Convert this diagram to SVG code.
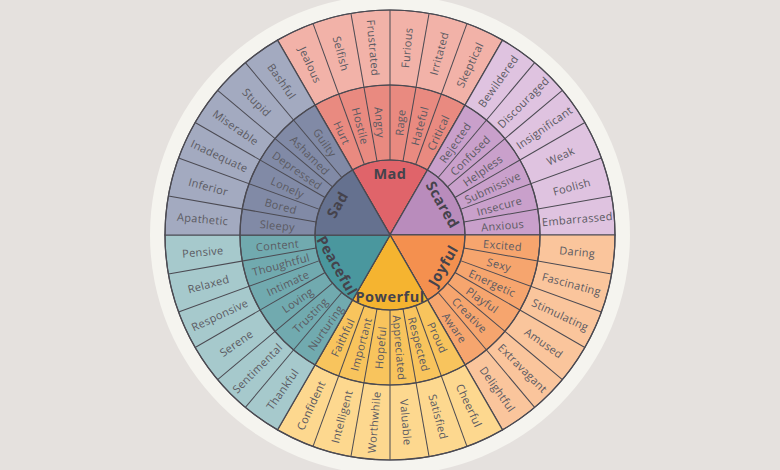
<svg xmlns="http://www.w3.org/2000/svg" width="780" height="470" viewBox="0 0 780 470">
<style>
.t{font-family:"Open Sans","Liberation Sans",sans-serif;font-size:11px;fill:#5b5a62;text-anchor:middle;dominant-baseline:central;letter-spacing:0.3px}
.c{font-family:"Open Sans","Liberation Sans",sans-serif;font-size:14.5px;font-weight:700;fill:#45434c;text-anchor:middle;dominant-baseline:central;letter-spacing:0.5px}
.sec{stroke:#4b4a52;stroke-width:1.2}
.div{stroke:#4b4a52;stroke-width:1}
</style>
<rect width="780" height="470" fill="#e5e1de"/>
<circle cx="390" cy="235" r="240" fill="#f5f4ef"/>

<g id="mad">
<path class="sec" d="M390 235 L277.5 40.14 A225 225 0 0 1 502.5 40.14 Z" fill="#f2b2a8"/>
<path class="sec" d="M390 235 L315 105.1 A150 150 0 0 1 465 105.1 Z" fill="#e98a80"/>
<path class="sec" d="M390 235 L352.5 170.05 A75 75 0 0 1 427.5 170.05 Z" fill="#e0646a"/>
<text class="t" transform="rotate(65 390 235)" x="202" y="235">Jealous</text>
<text class="t" transform="rotate(75 390 235)" x="202" y="235">Selfish</text>
<text class="t" transform="rotate(85 390 235)" x="202" y="235">Frustrated</text>
<text class="t" transform="rotate(-85 390 235)" x="578" y="235">Furious</text>
<text class="t" transform="rotate(-75 390 235)" x="578" y="235">Irritated</text>
<text class="t" transform="rotate(-65 390 235)" x="578" y="235">Skeptical</text>
<text class="t" transform="rotate(65 390 235)" x="277" y="235">Hurt</text>
<text class="t" transform="rotate(75 390 235)" x="277" y="235">Hostile</text>
<text class="t" transform="rotate(85 390 235)" x="277" y="235">Angry</text>
<text class="t" transform="rotate(-85 390 235)" x="503" y="235">Rage</text>
<text class="t" transform="rotate(-75 390 235)" x="503" y="235">Hateful</text>
<text class="t" transform="rotate(-65 390 235)" x="503" y="235">Critical</text>
<text class="c" x="390" y="173">Mad</text>
</g>

<g id="scared">
<path class="sec" d="M390 235 L502.5 40.14 A225 225 0 0 1 615 235 Z" fill="#dfc3e0"/>
<path class="sec" d="M390 235 L465 105.1 A150 150 0 0 1 540 235 Z" fill="#c9a0cb"/>
<path class="sec" d="M390 235 L427.5 170.05 A75 75 0 0 1 465 235 Z" fill="#b98cbc"/>
<text class="t" transform="rotate(-55 390 235)" x="578" y="235">Bewildered</text>
<text class="t" transform="rotate(-45 390 235)" x="578" y="235">Discouraged</text>
<text class="t" transform="rotate(-35 390 235)" x="578" y="235">Insignificant</text>
<text class="t" transform="rotate(-25 390 235)" x="578" y="235">Weak</text>
<text class="t" transform="rotate(-15 390 235)" x="578" y="235">Foolish</text>
<text class="t" transform="rotate(-5 390 235)" x="578" y="235">Embarrassed</text>
<text class="t" transform="rotate(-55 390 235)" x="503" y="235">Rejected</text>
<text class="t" transform="rotate(-45 390 235)" x="503" y="235">Confused</text>
<text class="t" transform="rotate(-35 390 235)" x="503" y="235">Helpless</text>
<text class="t" transform="rotate(-25 390 235)" x="503" y="235">Submissive</text>
<text class="t" transform="rotate(-15 390 235)" x="503" y="235">Insecure</text>
<text class="t" transform="rotate(-5 390 235)" x="503" y="235">Anxious</text>
<text class="c" transform="rotate(60 442.8 204.5)" x="442.8" y="204.5">Scared</text>
</g>

<g id="joyful">
<path class="sec" d="M390 235 L615 235 A225 225 0 0 1 502.5 429.86 Z" fill="#fac59c"/>
<path class="sec" d="M390 235 L540 235 A150 150 0 0 1 465 364.9 Z" fill="#f6a56e"/>
<path class="sec" d="M390 235 L465 235 A75 75 0 0 1 427.5 299.95 Z" fill="#f4904f"/>
<text class="t" transform="rotate(5 390 235)" x="578" y="235">Daring</text>
<text class="t" transform="rotate(15 390 235)" x="578" y="235">Fascinating</text>
<text class="t" transform="rotate(25 390 235)" x="578" y="235">Stimulating</text>
<text class="t" transform="rotate(35 390 235)" x="578" y="235">Amused</text>
<text class="t" transform="rotate(45 390 235)" x="578" y="235">Extravagant</text>
<text class="t" transform="rotate(55 390 235)" x="578" y="235">Delightful</text>
<text class="t" transform="rotate(5 390 235)" x="503" y="235">Excited</text>
<text class="t" transform="rotate(15 390 235)" x="503" y="235">Sexy</text>
<text class="t" transform="rotate(25 390 235)" x="503" y="235">Energetic</text>
<text class="t" transform="rotate(35 390 235)" x="503" y="235">Playful</text>
<text class="t" transform="rotate(45 390 235)" x="503" y="235">Creative</text>
<text class="t" transform="rotate(55 390 235)" x="503" y="235">Aware</text>
<text class="c" transform="rotate(-60 442.8 265.5)" x="442.8" y="265.5">Joyful</text>
</g>

<g id="powerful">
<path class="sec" d="M390 235 L502.5 429.86 A225 225 0 0 1 277.5 429.86 Z" fill="#fdd88f"/>
<path class="sec" d="M390 235 L465 364.9 A150 150 0 0 1 315 364.9 Z" fill="#f8c45d"/>
<path class="sec" d="M390 235 L427.5 299.95 A75 75 0 0 1 352.5 299.95 Z" fill="#f5b430"/>
<text class="t" transform="rotate(65 390 235)" x="578" y="235">Cheerful</text>
<text class="t" transform="rotate(75 390 235)" x="578" y="235">Satisfied</text>
<text class="t" transform="rotate(85 390 235)" x="578" y="235">Valuable</text>
<text class="t" transform="rotate(-85 390 235)" x="202" y="235">Worthwhile</text>
<text class="t" transform="rotate(-75 390 235)" x="202" y="235">Intelligent</text>
<text class="t" transform="rotate(-65 390 235)" x="202" y="235">Confident</text>
<text class="t" transform="rotate(65 390 235)" x="503" y="235">Proud</text>
<text class="t" transform="rotate(75 390 235)" x="503" y="235">Respected</text>
<text class="t" transform="rotate(85 390 235)" x="503" y="235">Appreciated</text>
<text class="t" transform="rotate(-85 390 235)" x="277" y="235">Hopeful</text>
<text class="t" transform="rotate(-75 390 235)" x="277" y="235">Important</text>
<text class="t" transform="rotate(-65 390 235)" x="277" y="235">Faithful</text>
<text class="c" x="390" y="296">Powerful</text>
</g>

<g id="peaceful">
<path class="sec" d="M390 235 L277.5 429.86 A225 225 0 0 1 165 235 Z" fill="#a6c9cc"/>
<path class="sec" d="M390 235 L315 364.9 A150 150 0 0 1 240 235 Z" fill="#71aaaf"/>
<path class="sec" d="M390 235 L352.5 299.95 A75 75 0 0 1 315 235 Z" fill="#4a979e"/>
<text class="t" transform="rotate(-55 390 235)" x="202" y="235">Thankful</text>
<text class="t" transform="rotate(-45 390 235)" x="202" y="235">Sentimental</text>
<text class="t" transform="rotate(-35 390 235)" x="202" y="235">Serene</text>
<text class="t" transform="rotate(-25 390 235)" x="202" y="235">Responsive</text>
<text class="t" transform="rotate(-15 390 235)" x="202" y="235">Relaxed</text>
<text class="t" transform="rotate(-5 390 235)" x="202" y="235">Pensive</text>
<text class="t" transform="rotate(-55 390 235)" x="277" y="235">Nurturing</text>
<text class="t" transform="rotate(-45 390 235)" x="277" y="235">Trusting</text>
<text class="t" transform="rotate(-35 390 235)" x="277" y="235">Loving</text>
<text class="t" transform="rotate(-25 390 235)" x="277" y="235">Intimate</text>
<text class="t" transform="rotate(-15 390 235)" x="277" y="235">Thoughtful</text>
<text class="t" transform="rotate(-5 390 235)" x="277" y="235">Content</text>
<text class="c" transform="rotate(60 337.2 265.5)" x="337.2" y="265.5">Peaceful</text>
</g>

<g id="sad">
<path class="sec" d="M390 235 L165 235 A225 225 0 0 1 277.5 40.14 Z" fill="#a3aac0"/>
<path class="sec" d="M390 235 L240 235 A150 150 0 0 1 315 105.1 Z" fill="#818aa6"/>
<path class="sec" d="M390 235 L315 235 A75 75 0 0 1 352.5 170.05 Z" fill="#65718f"/>
<text class="t" transform="rotate(5 390 235)" x="202" y="235">Apathetic</text>
<text class="t" transform="rotate(15 390 235)" x="202" y="235">Inferior</text>
<text class="t" transform="rotate(25 390 235)" x="202" y="235">Inadequate</text>
<text class="t" transform="rotate(35 390 235)" x="202" y="235">Miserable</text>
<text class="t" transform="rotate(45 390 235)" x="202" y="235">Stupid</text>
<text class="t" transform="rotate(55 390 235)" x="202" y="235">Bashful</text>
<text class="t" transform="rotate(5 390 235)" x="277" y="235">Sleepy</text>
<text class="t" transform="rotate(15 390 235)" x="277" y="235">Bored</text>
<text class="t" transform="rotate(25 390 235)" x="277" y="235">Lonely</text>
<text class="t" transform="rotate(35 390 235)" x="277" y="235">Depressed</text>
<text class="t" transform="rotate(45 390 235)" x="277" y="235">Ashamed</text>
<text class="t" transform="rotate(55 390 235)" x="277" y="235">Guilty</text>
<text class="c" transform="rotate(-60 337.2 204.5)" x="337.2" y="204.5">Sad</text>
</g>

<g id="dividers" fill="none">
<defs><line id="dl" x1="465" y1="235" x2="615" y2="235" class="div"/></defs>
<use href="#dl" transform="rotate(10 390 235)"/>
<use href="#dl" transform="rotate(20 390 235)"/>
<use href="#dl" transform="rotate(30 390 235)"/>
<use href="#dl" transform="rotate(40 390 235)"/>
<use href="#dl" transform="rotate(50 390 235)"/>
<use href="#dl" transform="rotate(70 390 235)"/>
<use href="#dl" transform="rotate(80 390 235)"/>
<use href="#dl" transform="rotate(90 390 235)"/>
<use href="#dl" transform="rotate(100 390 235)"/>
<use href="#dl" transform="rotate(110 390 235)"/>
<use href="#dl" transform="rotate(130 390 235)"/>
<use href="#dl" transform="rotate(140 390 235)"/>
<use href="#dl" transform="rotate(150 390 235)"/>
<use href="#dl" transform="rotate(160 390 235)"/>
<use href="#dl" transform="rotate(170 390 235)"/>
<use href="#dl" transform="rotate(190 390 235)"/>
<use href="#dl" transform="rotate(200 390 235)"/>
<use href="#dl" transform="rotate(210 390 235)"/>
<use href="#dl" transform="rotate(220 390 235)"/>
<use href="#dl" transform="rotate(230 390 235)"/>
<use href="#dl" transform="rotate(250 390 235)"/>
<use href="#dl" transform="rotate(260 390 235)"/>
<use href="#dl" transform="rotate(270 390 235)"/>
<use href="#dl" transform="rotate(280 390 235)"/>
<use href="#dl" transform="rotate(290 390 235)"/>
<use href="#dl" transform="rotate(310 390 235)"/>
<use href="#dl" transform="rotate(320 390 235)"/>
<use href="#dl" transform="rotate(330 390 235)"/>
<use href="#dl" transform="rotate(340 390 235)"/>
<use href="#dl" transform="rotate(350 390 235)"/>
<circle cx="390" cy="235" r="225" class="sec" stroke-width="1.5"/>
<circle cx="390" cy="235" r="150" class="sec" stroke-width="1.5"/>
<circle cx="390" cy="235" r="75" class="sec" stroke-width="1.5"/>
</g>
</svg>
